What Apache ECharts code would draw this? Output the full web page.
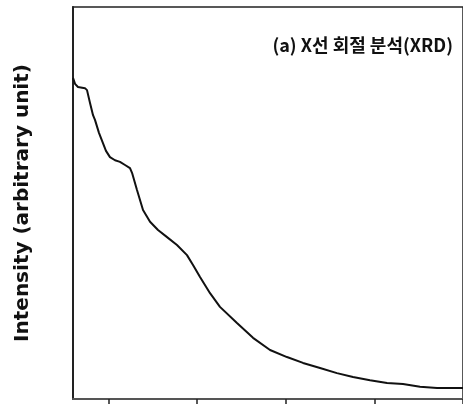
<!DOCTYPE html>
<html>
<head>
<meta charset="utf-8">
<script src="https://cdn.jsdelivr.net/npm/echarts@6/dist/echarts.min.js"></script>
<style>
  html, body { margin: 0; padding: 0; background: #fff; }
  #chart { width: 463px; height: 406px; }
</style>
</head>
<body>
<div id="chart"></div>
<script>
// 2-theta (deg)
const twoTheta = [16.0, 16.23, 16.56, 17.35, 17.58, 17.92, 18.26, 18.48, 18.93, 19.38, 19.72, 20.17,
  20.74, 21.3, 21.87, 22.43, 22.66, 23.22, 23.9, 24.69, 25.59, 26.61, 27.73, 28.86, 29.54, 30.33,
  31.46, 32.58, 34.5, 36.31, 38.23, 40.14, 41.95, 43.87, 45.78, 47.59, 49.51, 51.43, 53.23, 55.15,
  57.07, 58.87, 60.0];
const intensity = [81.9, 80.4, 79.6, 79.3, 78.8, 75.5, 72.4, 71.2, 67.9, 65.3, 63.3, 61.7,
  60.9, 60.5, 59.7, 58.9, 57.7, 53.3, 48.2, 45.2, 43.1, 41.3, 39.3, 36.7, 34.2, 31.1,
  27.0, 23.5, 19.4, 15.6, 12.5, 10.7, 9.2, 7.9, 6.6, 5.6, 4.8, 4.1, 3.8, 3.1,
  2.8, 2.8, 2.8];
const tickValues = [20, 30, 40, 50, 60];
const titleText = '(a) X선 회절 분석(XRD)';
const yName = 'Intensity (arbitrary unit)';

const myChart = echarts.init(document.getElementById('chart'));
const option = {
  animation: false,
  backgroundColor: '#fff',
  title: {
    text: titleText,
    right: 5,
    top: 31,
    textStyle: {
      fontFamily: '"Noto Sans CJK KR", sans-serif',
      fontSize: 18,
      fontWeight: 'bold',
      color: '#111'
    }
  },
  grid: {
    left: 73,
    right: 0,
    top: 7,
    bottom: 7,
    show: true,
    borderColor: '#222',
    borderWidth: 1.5
  },
  xAxis: {
    type: 'value',
    min: 16,
    max: 60,
    splitLine: { show: false },
    axisLine: { lineStyle: { color: '#555', width: 2 } },
    axisTick: {
      show: true,
      inside: false,
      length: 5,
      customValues: tickValues,
      lineStyle: { color: '#222', width: 1.5 }
    },
    axisLabel: { show: false }
  },
  yAxis: {
    type: 'value',
    min: 0,
    max: 100,
    name: yName,
    nameLocation: 'middle',
    nameGap: 40,
    nameTextStyle: {
      fontFamily: '"DejaVu Sans", sans-serif',
      fontSize: 20,
      fontWeight: 'bold',
      color: '#111'
    },
    splitLine: { show: false },
    axisLine: { lineStyle: { color: '#222', width: 2 } },
    axisTick: { show: false },
    axisLabel: { show: false }
  },
  series: [
    {
      type: 'line',
      data: twoTheta.map((t, i) => [t, intensity[i]]),
      showSymbol: false,
      smooth: false,
      lineStyle: { color: '#111', width: 2 }
    }
  ]
};
option && myChart.setOption(option);
</script>
</body>
</html>
